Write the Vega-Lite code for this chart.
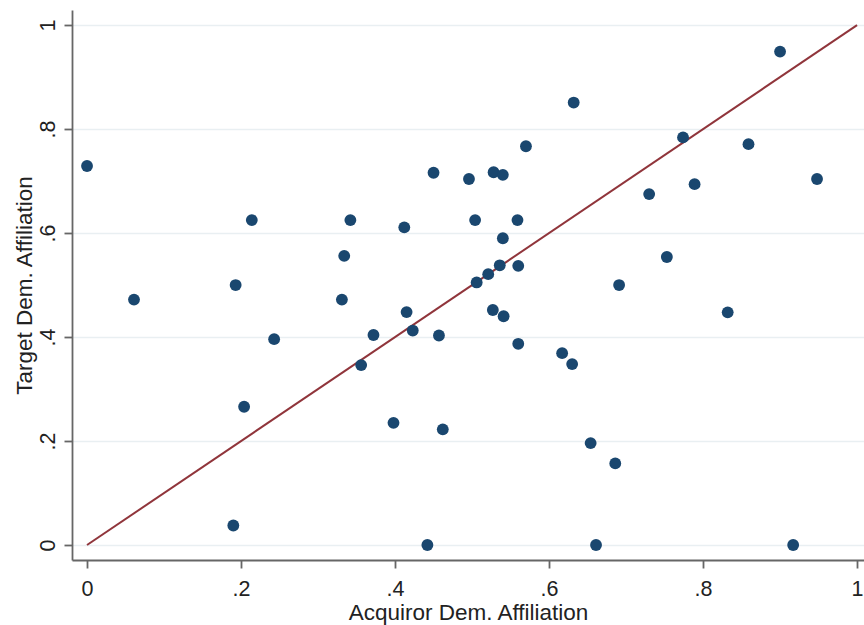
{
  "$schema": "https://vega.github.io/schema/vega-lite/v6.json",
  "width": 792,
  "height": 550,
  "autosize": {"type": "none"},
  "padding": {"left": 72, "top": 10, "right": 0, "bottom": 65},
  "background": "white",
  "config": {
    "view": {"stroke": null},
    "font": "Liberation Sans"
  },
  "datasets": {
    "pts": [
      {"acq": 0.000, "tgt": 0.729},
      {"acq": 0.061, "tgt": 0.472},
      {"acq": 0.193, "tgt": 0.500},
      {"acq": 0.214, "tgt": 0.625},
      {"acq": 0.243, "tgt": 0.396},
      {"acq": 0.204, "tgt": 0.266},
      {"acq": 0.190, "tgt": 0.0375},
      {"acq": 0.334, "tgt": 0.556},
      {"acq": 0.342, "tgt": 0.625},
      {"acq": 0.331, "tgt": 0.472},
      {"acq": 0.372, "tgt": 0.404},
      {"acq": 0.356, "tgt": 0.346},
      {"acq": 0.412, "tgt": 0.611},
      {"acq": 0.415, "tgt": 0.448},
      {"acq": 0.423, "tgt": 0.4125},
      {"acq": 0.398, "tgt": 0.235},
      {"acq": 0.450, "tgt": 0.716},
      {"acq": 0.457, "tgt": 0.403},
      {"acq": 0.462, "tgt": 0.2225},
      {"acq": 0.442, "tgt": 0.0},
      {"acq": 0.496, "tgt": 0.704},
      {"acq": 0.504, "tgt": 0.625},
      {"acq": 0.528, "tgt": 0.717},
      {"acq": 0.540, "tgt": 0.712},
      {"acq": 0.570, "tgt": 0.767},
      {"acq": 0.540, "tgt": 0.590},
      {"acq": 0.559, "tgt": 0.625},
      {"acq": 0.536, "tgt": 0.538},
      {"acq": 0.521, "tgt": 0.521},
      {"acq": 0.506, "tgt": 0.505},
      {"acq": 0.560, "tgt": 0.537},
      {"acq": 0.527, "tgt": 0.452},
      {"acq": 0.541, "tgt": 0.440},
      {"acq": 0.560, "tgt": 0.387},
      {"acq": 0.632, "tgt": 0.851},
      {"acq": 0.617, "tgt": 0.369},
      {"acq": 0.630, "tgt": 0.348},
      {"acq": 0.654, "tgt": 0.196},
      {"acq": 0.686, "tgt": 0.157},
      {"acq": 0.661, "tgt": 0.0},
      {"acq": 0.691, "tgt": 0.500},
      {"acq": 0.730, "tgt": 0.675},
      {"acq": 0.774, "tgt": 0.784},
      {"acq": 0.789, "tgt": 0.694},
      {"acq": 0.753, "tgt": 0.554},
      {"acq": 0.859, "tgt": 0.771},
      {"acq": 0.900, "tgt": 0.949},
      {"acq": 0.948, "tgt": 0.704},
      {"acq": 0.832, "tgt": 0.4475},
      {"acq": 0.917, "tgt": 0.0}
    ],
    "diag": [
      {"acq": 0, "tgt": 0},
      {"acq": 1, "tgt": 1}
    ]
  },
  "encoding": {
    "x": {
      "field": "acq",
      "type": "quantitative",
      "scale": {"domain": [-0.0195, 1.009], "nice": false, "zero": false},
      "axis": {
        "title": "Acquiror Dem. Affiliation",
        "values": [0, 0.2, 0.4, 0.6, 0.8, 1],
        "format": ".1~f",
        "labelExpr": "replace(datum.label, '0.', '.')",
        "grid": false,
        "domainColor": "#666666",
        "domainWidth": 1.8,
        "tickColor": "#666666",
        "tickWidth": 1.8,
        "tickSize": 8,
        "labelPadding": 10,
        "labelFontSize": 21.5,
        "labelColor": "#222222",
        "titleFontSize": 22.5,
        "titleFontWeight": "normal",
        "titleColor": "#222222",
        "titlePadding": 2
      }
    },
    "y": {
      "field": "tgt",
      "type": "quantitative",
      "scale": {"domain": [-0.0288, 1.029], "nice": false, "zero": false},
      "axis": {
        "title": "Target Dem. Affiliation",
        "values": [0, 0.2, 0.4, 0.6, 0.8, 1],
        "format": ".1~f",
        "labelExpr": "replace(datum.label, '0.', '.')",
        "grid": true,
        "gridColor": "#e9eff2",
        "gridWidth": 1.6,
        "domainColor": "#666666",
        "domainWidth": 1.8,
        "tickColor": "#666666",
        "tickWidth": 1.8,
        "tickSize": 8,
        "labelPadding": 10,
        "labelAngle": -90,
        "labelAlign": "center",
        "labelBaseline": "alphabetic",
        "labelFontSize": 21.5,
        "labelColor": "#222222",
        "titleFontSize": 22.5,
        "titleFontWeight": "normal",
        "titleColor": "#222222",
        "titlePadding": 1
      }
    }
  },
  "layer": [
    {
      "data": {"name": "diag"},
      "mark": {"type": "line", "color": "#90353b", "strokeWidth": 2},
      "encoding": {}
    },
    {
      "data": {"name": "pts"},
      "mark": {"type": "circle", "color": "#1a476f", "opacity": 1, "size": 140},
      "encoding": {}
    }
  ]
}
